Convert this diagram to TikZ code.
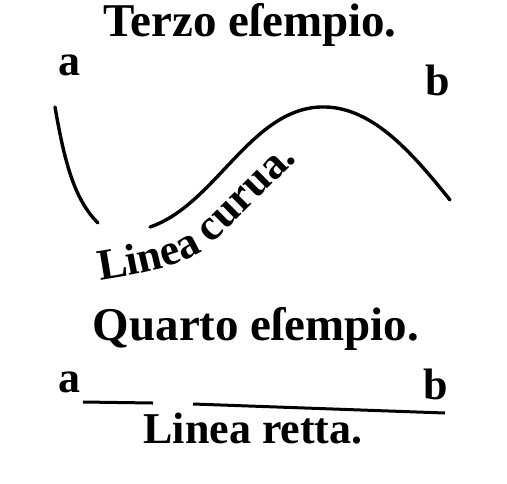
\documentclass[tikz,border=0pt]{standalone}
\usepackage{fontspec}
\setmainfont{Liberation Serif}
\usetikzlibrary{decorations.text}
\newcommand{\oldfont}{\fontsize{22}{24}\selectfont\bfseries}
\newcommand{\headfont}{\fontsize{23.5}{25}\selectfont\bfseries}
\tikzset{
  ttl/.style  ={font=\headfont, inner sep=0pt, anchor=base},
  ltr/.style  ={font=\oldfont, inner sep=0pt, anchor=base},
  crv/.style  ={line width=1.7pt, line cap=round},
  rule/.style ={line width=1.5pt},
}

\begin{document}
\begin{tikzpicture}[x=0.5pt, y=-0.5pt]
\useasboundingbox (0,0) rectangle (507,483);

% third example: curved line
\node[ttl] (t3) at (250,36) {Terzo eſempio.};
\node[ltr] (a3) at (69,75) {a};
\node[ltr] (b3) at (438,95) {b};
\coordinate (c0) at (55,107);
\coordinate (c1) at (98,223);
\coordinate (c2) at (150,227);
\coordinate (c3) at (320,107);
\coordinate (c4) at (450,200);
\draw[crv] (c0) .. controls (65,165) and (75,200) .. (c1)
           (c2) .. controls (215,205) and (250,110) .. (c3)
                .. controls (370,105) and (410,150) .. (c4);
\path[decorate, decoration={text along path, text align=left,
      text={|\oldfont|Linea curua.}}]
  (100,280) .. controls (165,270) and (190,262) .. (212,244) -- (305,152);

% fourth example: straight line
\node[ttl] (t4) at (256,340) {Quarto eſempio.};
\node[ltr] (a4) at (69,392) {a};
\node[ltr] (b4) at (436,399) {b};
\coordinate (l0) at (83,402);
\coordinate (l1) at (153,403);
\coordinate (l2) at (193,404);
\coordinate (l3) at (445,413);
\draw[rule] (l0) -- (l1) (l2) -- (l3);
\node[ltr] (r4) at (253,443) {Linea retta.};

\end{tikzpicture}
\end{document}
